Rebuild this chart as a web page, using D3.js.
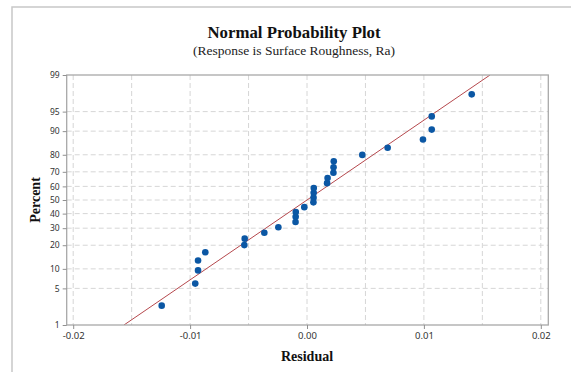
<!DOCTYPE html>
<html>
<head>
<meta charset="utf-8">
<script src="https://cdn.jsdelivr.net/npm/d3@7"></script>
<style>
  body { margin: 0; background: #fff; }
  svg { display: block; }
</style>
</head>
<body>
<div id="chart"></div>
<script>
// sorted residuals
const residuals = [
  -0.01243, -0.00956, -0.00932, -0.00932, -0.00870, -0.00533, -0.00536,
  -0.00365, -0.00245, -0.00098, -0.00097, -0.00096, -0.00023, 0.00055,
  0.00056, 0.00057, 0.00058, 0.00172, 0.00176, 0.00226, 0.00227, 0.00229,
  0.00473, 0.00690, 0.00992, 0.01067, 0.01067, 0.01409
];
const percentTicks = [1, 5, 10, 20, 30, 40, 50, 60, 70, 80, 90, 95, 99];
const percentGrid = [5, 10, 20, 30, 40, 50, 60, 70, 80, 90, 95];
const residualTicks = [-0.02, -0.01, 0, 0.01, 0.02];
const residualGrid = [-0.02, -0.015, -0.01, -0.005, 0, 0.005, 0.01, 0.015, 0.02];
const fitMean = 0;
const fitSd = 0.00673;

// inverse normal cdf (Acklam)
function probit(p) {
  const a = [-39.6968302866538, 220.946098424521, -275.928510446969, 138.357751867269, -30.6647980661472, 2.50662827745924];
  const b = [-54.4760987982241, 161.585836858041, -155.698979859887, 66.8013118877197, -13.2806815528857];
  const c = [-0.00778489400243029, -0.322396458041136, -2.40075827716184, -2.54973253934373, 4.37466414146497, 2.93816398269878];
  const d = [0.00778469570904146, 0.32246712907004, 2.445134137143, 3.75440866190742];
  const pl = 0.02425;
  let q, r;
  if (p < pl) {
    q = Math.sqrt(-2 * Math.log(p));
    return (((((c[0] * q + c[1]) * q + c[2]) * q + c[3]) * q + c[4]) * q + c[5]) / ((((d[0] * q + d[1]) * q + d[2]) * q + d[3]) * q + 1);
  }
  if (p > 1 - pl) {
    q = Math.sqrt(-2 * Math.log(1 - p));
    return -(((((c[0] * q + c[1]) * q + c[2]) * q + c[3]) * q + c[4]) * q + c[5]) / ((((d[0] * q + d[1]) * q + d[2]) * q + d[3]) * q + 1);
  }
  q = p - 0.5;
  r = q * q;
  return (((((a[0] * r + a[1]) * r + a[2]) * r + a[3]) * r + a[4]) * r + a[5]) * q / (((((b[0] * r + b[1]) * r + b[2]) * r + b[3]) * r + b[4]) * r + 1);
}

const width = 571, height = 372;
const pLeft = 66.7, pRight = 548.3, pTop = 75, pBottom = 325;

const svg = d3.select('#chart').append('svg')
  .attr('width', width)
  .attr('height', height);

// outer frame of the graph window
svg.append('path')
  .attr('d', 'M12,' + height + 'V7H' + width)
  .attr('fill', 'none')
  .attr('stroke', '#c8c8c8')
  .attr('stroke-width', 1.5);

const x = d3.scaleLinear()
  .domain([-0.02 - (73.2 - pLeft) / 11690, -0.02 + (pRight - 73.2) / 11690])
  .range([pLeft, pRight]);

const y = d3.scaleLinear()
  .domain([probit(0.01), probit(0.99)])
  .range([pBottom, pTop]);

const yp = p => y(probit(p / 100));

const grid = svg.append('g')
  .attr('stroke', '#d6d6d6')
  .attr('stroke-width', 1)
  .attr('stroke-dasharray', '5,3');

grid.selectAll('.h').data(percentGrid).enter().append('line')
  .attr('class', 'h')
  .attr('x1', pLeft).attr('x2', pRight)
  .attr('y1', d => yp(d)).attr('y2', d => yp(d));

grid.selectAll('.v').data(residualGrid).enter().append('line')
  .attr('class', 'v')
  .attr('x1', d => x(d)).attr('x2', d => x(d))
  .attr('y1', pTop).attr('y2', pBottom);

// fitted normal line
svg.append('defs').append('clipPath').attr('id', 'plot')
  .append('rect')
  .attr('x', pLeft).attr('y', pTop)
  .attr('width', pRight - pLeft).attr('height', pBottom - pTop);

const zLo = probit(0.01), zHi = probit(0.99);
svg.append('line')
  .attr('clip-path', 'url(#plot)')
  .attr('x1', x(fitMean + fitSd * zLo)).attr('y1', y(zLo))
  .attr('x2', x(fitMean + fitSd * zHi)).attr('y2', y(zHi))
  .attr('stroke', '#b5484d')
  .attr('stroke-width', 1);

// frame
svg.append('rect')
  .attr('x', pLeft).attr('y', pTop)
  .attr('width', pRight - pLeft).attr('height', pBottom - pTop)
  .attr('fill', 'none')
  .attr('stroke', '#a8a8a8')
  .attr('stroke-width', 1.3);

const n = residuals.length;
svg.append('g').selectAll('circle')
  .data(residuals.slice().sort(d3.ascending))
  .enter().append('circle')
  .attr('cx', d => x(d))
  .attr('cy', (d, i) => y(probit((i + 1 - 0.3) / (n + 0.4))))
  .attr('r', 3.3)
  .attr('fill', '#0b57a4');

const yAxis = d3.axisLeft(y)
  .tickValues(percentTicks.map(p => probit(p / 100)))
  .tickFormat((d, i) => percentTicks[i])
  .tickSize(4)
  .tickPadding(3);

svg.append('g')
  .attr('transform', 'translate(' + pLeft + ',0)')
  .call(yAxis)
  .call(g => g.select('.domain').remove())
  .call(g => g.selectAll('line').attr('stroke', '#909090'))
  .call(g => g.selectAll('text')
    .attr('font-family', 'Noto Sans, sans-serif')
    .attr('font-size', 8.5)
    .attr('fill', '#333'));

const xAxis = d3.axisBottom(x)
  .tickValues(residualTicks)
  .tickFormat(d3.format('.2f'))
  .tickSize(4)
  .tickPadding(3);

svg.append('g')
  .attr('transform', 'translate(0,' + pBottom + ')')
  .call(xAxis)
  .call(g => g.select('.domain').remove())
  .call(g => g.selectAll('line').attr('stroke', '#909090'))
  .call(g => g.selectAll('text')
    .text(d => d3.format('.2f')(d).replace('−', '-'))
    .attr('font-family', 'Noto Sans, sans-serif')
    .attr('font-size', 9.5)
    .attr('fill', '#333'));

svg.append('text')
  .attr('x', 294).attr('y', 38)
  .attr('text-anchor', 'middle')
  .attr('font-family', 'Liberation Serif, serif')
  .attr('font-weight', 'bold')
  .attr('font-size', 16.8)
  .attr('fill', '#111')
  .text('Normal Probability Plot');

svg.append('text')
  .attr('x', 294).attr('y', 55)
  .attr('text-anchor', 'middle')
  .attr('font-family', 'Liberation Serif, serif')
  .attr('font-size', 13.5)
  .attr('fill', '#222')
  .text('(Response is Surface Roughness, Ra)');

svg.append('text')
  .attr('transform', 'translate(40,200) rotate(-90)')
  .attr('text-anchor', 'middle')
  .attr('font-family', 'Liberation Serif, serif')
  .attr('font-weight', 'bold')
  .attr('font-size', 14)
  .attr('fill', '#111')
  .text('Percent');

svg.append('text')
  .attr('x', 307).attr('y', 361)
  .attr('text-anchor', 'middle')
  .attr('font-family', 'Liberation Serif, serif')
  .attr('font-weight', 'bold')
  .attr('font-size', 14)
  .attr('fill', '#111')
  .text('Residual');
</script>
</body>
</html>
